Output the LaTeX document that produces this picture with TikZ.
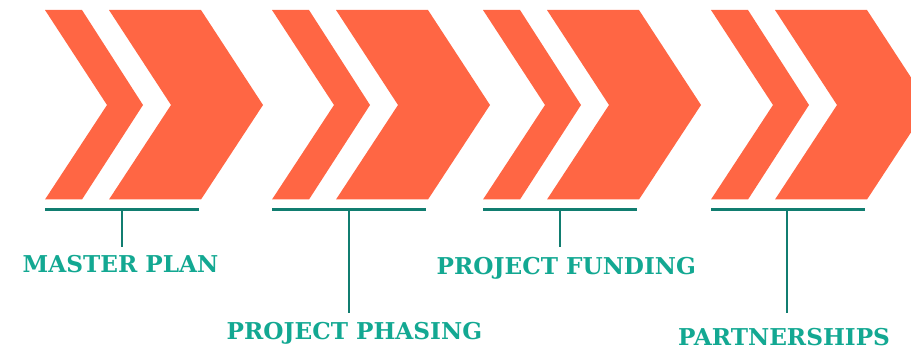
\documentclass[tikz,border=0pt]{standalone}
\usepackage{fontspec}
\setmainfont{DejaVu Serif}
\definecolor{chev}{HTML}{FF6644}
\definecolor{brk}{HTML}{117D70}
\definecolor{lab}{HTML}{13A892}
\tikzset{
  chevfill/.style={fill=chev, draw=none},
  bracket/.style={draw=brk, line width=3pt},
  stem/.style={draw=brk, line width=2.4pt},
  labeltext/.style={text=lab, font=\fontsize{23.2}{25}\selectfont\bfseries, inner sep=0pt, anchor=base west}
}
\begin{document}
\begin{tikzpicture}[x=1pt,y=-1pt]
\useasboundingbox (0,0) rectangle (911,350);
\clip (0,0) rectangle (911,350);
\foreach \x in {45,272,483,711}{
  \fill[chevfill] (\x,10) -- ++(37,0) -- (\x+98,105) -- (\x+37,199.5) -- (\x,199.5) -- (\x+62,105) -- cycle;
  \fill[chevfill] (\x+64,10) -- (\x+156,10) -- (\x+218,105) -- (\x+156,199.5) -- (\x+64,199.5) -- (\x+126,105) -- cycle;
}
\coordinate (l1a) at (45,210);  \coordinate (l1b) at (199,210);
\coordinate (l2a) at (272,210); \coordinate (l2b) at (426,210);
\coordinate (l3a) at (483,210); \coordinate (l3b) at (637,210);
\coordinate (l4a) at (711,210); \coordinate (l4b) at (865,210);
\coordinate (s1a) at (122,210); \coordinate (s1b) at (122,247);
\coordinate (s2a) at (349,210); \coordinate (s2b) at (349,313);
\coordinate (s3a) at (560,210); \coordinate (s3b) at (560,247);
\coordinate (s4a) at (787,210); \coordinate (s4b) at (787,313);
\foreach \i in {1,2,3,4}{
  \draw[bracket] (l\i a) -- (l\i b);
  \draw[stem] (s\i a) -- (s\i b);
}
\node[labeltext] (t1) at (22.5,272) {MASTER PLAN};
\node[labeltext] (t2) at (226.5,339.5) {PROJECT PHASING};
\node[labeltext] (t3) at (436.5,274.3) {PROJECT FUNDING};
\node[labeltext] (t4) at (678,345) {PARTNERSHIPS};
\end{tikzpicture}
\end{document}
